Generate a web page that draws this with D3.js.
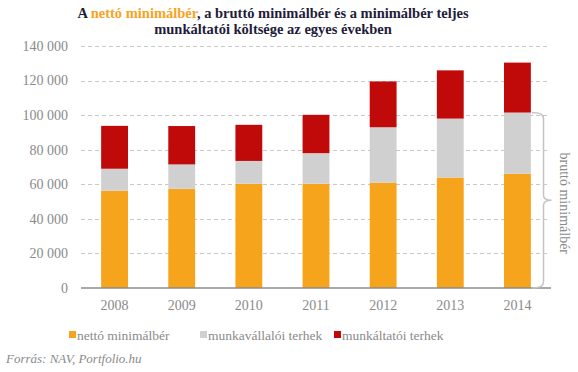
<!DOCTYPE html>
<html>
<head>
<meta charset="utf-8">
<script src="https://cdn.jsdelivr.net/npm/d3@7"></script>
<style>
  body { margin: 0; background: #fff; }
  text { font-family: "Liberation Serif", "Times New Roman", serif; }
</style>
</head>
<body>
<script>
// * Data
const years = ["2008", "2009", "2010", "2011", "2012", "2013", "2014"];
const seriesNames = ["nettó minimálbér", "munkavállalói terhek", "munkáltatói terhek"];
const netto = [56300, 57400, 60300, 60300, 60900, 63900, 66100];
const munkavallaloi = [12700, 14100, 13200, 17700, 32100, 34100, 35400];
const munkaltatoi = [24800, 22200, 20900, 22200, 26500, 27900, 28900];
const yTicks = [0, 20000, 40000, 60000, 80000, 100000, 120000, 140000];
const colors = ["#f7a41d", "#d0d0d0", "#c00a0a"];

// * Size & Margins
const width = 578;
const height = 372;
const margin = { top: 46, right: 27, bottom: 84, left: 81 };

const svg = d3
	.select("body")
	.append("svg")
	.attr("width", width)
	.attr("height", height);

// * Title
const title = svg.append("text")
	.attr("text-anchor", "middle")
	.attr("font-weight", "bold")
	.attr("font-size", "14.5px")
	.attr("fill", "#1f1d3a");
const line1 = title.append("tspan").attr("x", 273).attr("y", 18);
line1.append("tspan").text("A ");
line1.append("tspan").attr("fill", "#f7a41d").text("nettó minimálbér");
line1.append("tspan").text(", a bruttó minimálbér és a minimálbér teljes");
title.append("tspan").attr("x", 273).attr("y", 34)
	.text("munkáltatói költsége az egyes években");

// * Scales
const x = d3.scaleBand()
	.domain(years)
	.range([margin.left, width - margin.right])
	.paddingInner(0.6)
	.paddingOuter(0.3);

const y = d3.scaleLinear()
	.domain([0, 140000])
	.range([height - margin.bottom, margin.top]);

// * Grid & y labels
const fmt = (v) => d3.format(",")(v).replace(/,/g, " ");
svg.append("g")
	.selectAll("line")
	.data(yTicks.slice(1))
	.join("line")
	.attr("x1", margin.left)
	.attr("x2", width - margin.right - 1)
	.attr("y1", (d) => Math.round(y(d)) + 0.5)
	.attr("y2", (d) => Math.round(y(d)) + 0.5)
	.attr("stroke", "#c8c8c8")
	.attr("stroke-dasharray", "4,3");

svg.append("g")
	.selectAll("text")
	.data(yTicks)
	.join("text")
	.attr("x", 68)
	.attr("y", (d) => y(d))
	.attr("dy", "0.35em")
	.attr("text-anchor", "end")
	.attr("font-size", "14px")
	.attr("fill", "#8a8a8a")
	.text(fmt);

// * Stacked bars
const rows = years.map((yr, i) => ({
	year: yr,
	[seriesNames[0]]: netto[i],
	[seriesNames[1]]: munkavallaloi[i],
	[seriesNames[2]]: munkaltatoi[i],
}));
const stacked = d3.stack().keys(seriesNames)(rows);

svg.append("g")
	.selectAll("g")
	.data(stacked)
	.join("g")
	.attr("fill", (d, i) => colors[i])
	.selectAll("rect")
	.data((d) => d)
	.join("rect")
	.attr("x", (d) => x(d.data.year))
	.attr("width", x.bandwidth())
	.attr("y", (d) => y(d[1]))
	.attr("height", (d) => y(d[0]) - y(d[1]));

// * Baseline
svg.append("line")
	.attr("x1", margin.left)
	.attr("x2", width - margin.right)
	.attr("y1", y(0))
	.attr("y2", y(0))
	.attr("stroke", "#8c8c8c")
	.attr("stroke-width", 1.5);

// * X labels
svg.append("g")
	.selectAll("text")
	.data(years)
	.join("text")
	.attr("x", (d) => x(d) + x.bandwidth() / 2)
	.attr("y", 305)
	.attr("dy", "0.35em")
	.attr("text-anchor", "middle")
	.attr("font-size", "14px")
	.attr("fill", "#8a8a8a")
	.text((d) => d);

// * Brace for gross wage of last year
const last = years.length - 1;
const bTop = y(netto[last] + munkavallaloi[last]);
const bBot = y(0);
const bx = 543.5;
const bMid = (bTop + bBot) / 2;
const brace = `M532,${bTop} Q${bx},${bTop} ${bx},${bTop + 6}
	L${bx},${bMid - 5} Q${bx},${bMid} ${bx + 8},${bMid}
	Q${bx},${bMid} ${bx},${bMid + 5}
	L${bx},${bBot - 6} Q${bx},${bBot} 532,${bBot}`;
svg.append("path")
	.attr("d", brace)
	.attr("fill", "none")
	.attr("stroke", "#c4c4c4")
	.attr("stroke-width", 1.5);

svg.append("text")
	.attr("transform", `translate(560,${bMid + 3}) rotate(90)`)
	.attr("text-anchor", "middle")
	.attr("font-size", "14px")
	.attr("fill", "#8a8a8a")
	.text("bruttó minimálbér");

// * Legend
const legendX = [69, 200, 334];
const legend = svg.append("g")
	.selectAll("g")
	.data(seriesNames)
	.join("g")
	.attr("transform", (d, i) => `translate(${legendX[i]},335)`);
legend.append("rect")
	.attr("y", -4)
	.attr("width", 7)
	.attr("height", 7)
	.attr("fill", (d, i) => colors[i]);
legend.append("text")
	.attr("x", 8)
	.attr("dy", "0.35em")
	.attr("font-size", "13.5px")
	.attr("fill", "#8a8a8a")
	.text((d) => d);

// * Source
svg.append("text")
	.attr("x", 6)
	.attr("y", 358)
	.attr("dy", "0.35em")
	.attr("font-size", "13px")
	.attr("font-style", "italic")
	.attr("fill", "#8a8a8a")
	.text("Forrás: NAV, Portfolio.hu");
</script>
</body>
</html>
